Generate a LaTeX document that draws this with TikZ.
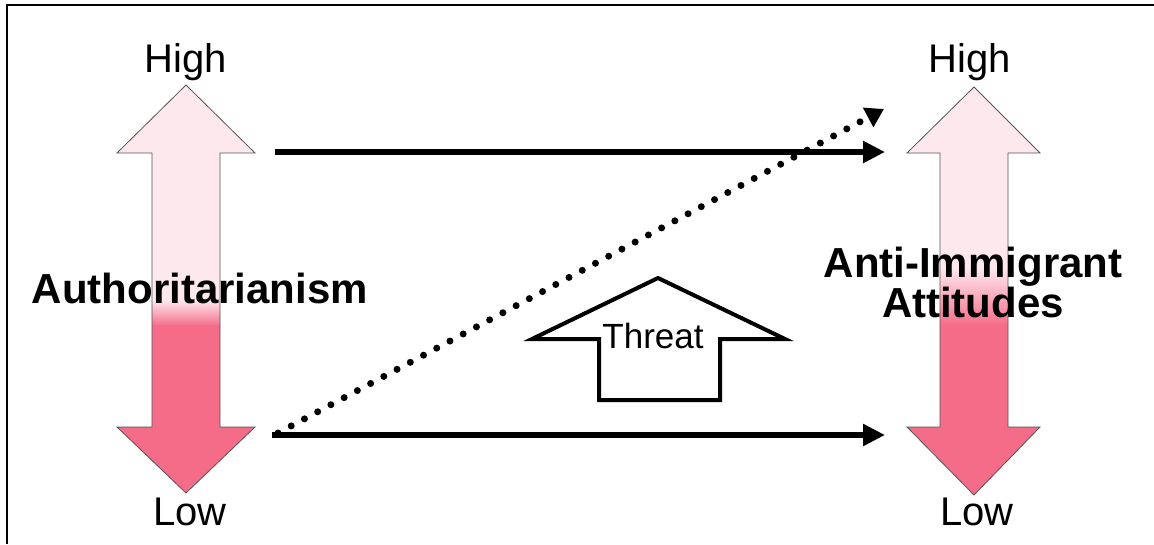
\documentclass[tikz,border=0pt]{standalone}
\usepackage{fontspec}
\setmainfont{Liberation Sans}
\usetikzlibrary{arrows.meta}
\definecolor{lightpk}{HTML}{FDE8EE}
\definecolor{darkpk}{HTML}{F46C88}
\definecolor{outl}{HTML}{555555}
\tikzset{
  lbl/.style={font=\fontsize{40}{40}\selectfont, anchor=base, inner sep=0pt},
  ttl/.style={font=\bfseries\fontsize{42}{40}\selectfont, anchor=base, inner sep=0pt, align=center},
  solidarr/.style={line width=5.5pt, -{Triangle[length=22pt,width=21pt]}},
  dotarr/.style={line width=7pt, line cap=round, dash pattern=on 0pt off 15pt, -{Triangle[length=18pt,width=21pt]}},
  dblarrow/.style={draw=outl, line width=0.8pt}
}
\begin{document}
\begin{tikzpicture}[x=1pt,y=-1pt]
\useasboundingbox (0,0) rectangle (1154,544);
\fill[white] (0,0) rectangle (1154,544);
% frame
\draw[line width=2.5pt] (7,544) -- (7,5) -- (1154,5);

% left double arrow
\def\lpath{(186,85) -- (255,153) -- (220,153) -- (220,427) -- (255,427) -- (186,493) -- (117,427) -- (152,427) -- (152,153) -- (117,153) -- cycle}
\begin{scope}
  \clip \lpath;
  \fill[lightpk] (100,80) rectangle (270,300);
  \shade[top color=lightpk, bottom color=darkpk] (100,300) rectangle (270,326);
  \fill[darkpk] (100,326) rectangle (270,500);
\end{scope}
\draw[dblarrow] \lpath;

% right double arrow
\def\rpath{(974,87) -- (1040,153) -- (1008,153) -- (1008,427) -- (1040,427) -- (974,495) -- (907,427) -- (940,427) -- (940,153) -- (907,153) -- cycle}
\begin{scope}
  \clip \rpath;
  \fill[lightpk] (900,80) rectangle (1050,268);
  \shade[top color=lightpk, bottom color=darkpk] (900,268) rectangle (1050,326);
  \fill[darkpk] (900,326) rectangle (1050,500);
\end{scope}
\draw[dblarrow] \rpath;

% threat arrow
\draw[line width=4pt, fill=white, line join=miter] (658,278) -- (785,339) -- (720,339) -- (720,400) -- (599,400) -- (599,339) -- (532,339) -- cycle;
\node[font=\fontsize{35}{35}\selectfont, anchor=base, inner sep=0pt] (threat) at (653,348) {Threat};

% labels
\node[lbl] (lhigh) at (186,72) {High};
\node[lbl] (llow) at (190,525) {Low};
\node[lbl] (rhigh) at (970,72) {High};
\node[lbl] (rlow) at (977,525) {Low};
\node[ttl] (auth) at (200,303) {Authoritarianism};
\node[ttl] (anti) at (973,277) {Anti-Immigrant};
\node[ttl] (att) at (973,317) {Attitudes};

% connector endpoints
\coordinate (a1) at (275,152);
\coordinate (b1) at (885,152);
\coordinate (a2) at (272,435);
\coordinate (b2) at (885,435);
\coordinate (a3) at (278,433);
\coordinate (b3) at (884,109);

\draw[solidarr] (a1) -- (b1);
\draw[solidarr] (a2) -- (b2);
\draw[dotarr] (a3) -- (b3);
\end{tikzpicture}
\end{document}
